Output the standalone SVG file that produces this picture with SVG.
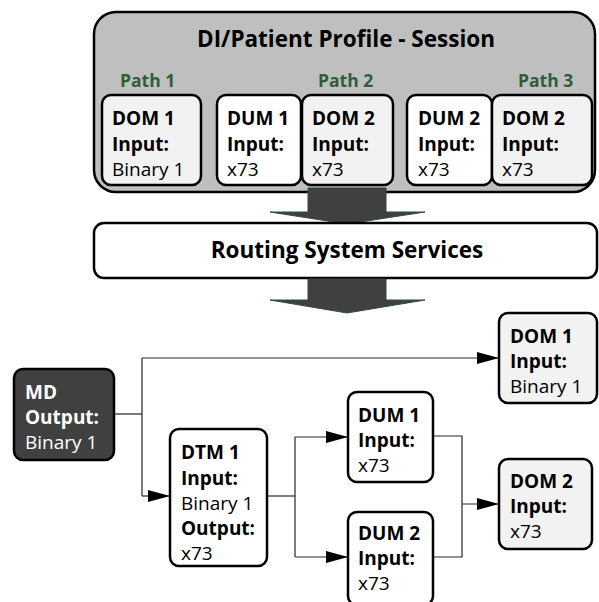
<svg xmlns="http://www.w3.org/2000/svg" width="599" height="602" viewBox="0 0 599 602">
<defs>
<style>
.box{stroke:#000;stroke-width:2.5}
.w{fill:#fff}
.g{fill:#f2f2f2}
.t{font-family:"Open Sans","Liberation Sans",sans-serif;font-size:19px;fill:#000}
.b{font-weight:bold}
.path{font-family:"Open Sans","Liberation Sans",sans-serif;font-size:17.5px;font-weight:bold;fill:#2f5e3b}
.big{font-family:"Open Sans","Liberation Sans",sans-serif;font-size:22.5px;font-weight:bold;fill:#000;text-anchor:middle}
.ln{fill:none;stroke:#262626;stroke-width:1.2}
.blk{fill:#404040;stroke:#2f4f3a;stroke-width:1}
</style>
<marker id="ah" markerUnits="userSpaceOnUse" markerWidth="22" markerHeight="12" refX="22" refY="6" orient="auto">
<path d="M0,0 L22,6 L0,12 z" fill="#000"/>
</marker>
</defs>

<g id="session">
<rect class="box" x="94" y="12" width="501" height="180" rx="22" fill="#bfbfbf"/>
<text class="big" x="346" y="47">DI/Patient Profile - Session</text>
<text class="path" x="120" y="87">Path 1</text>
<text class="path" x="318" y="87">Path 2</text>
<text class="path" x="518" y="87">Path 3</text>
</g>

<g id="s-dom1">
<rect class="box g" x="102" y="95" width="99" height="90" rx="9"/>
<text class="t"><tspan class="b" x="112" y="125">DOM 1</tspan><tspan class="b" x="112" y="151">Input:</tspan><tspan x="112" y="176">Binary 1</tspan></text>
</g>
<g id="s-dum1">
<rect class="box w" x="217" y="95" width="84" height="90" rx="9"/>
<text class="t"><tspan class="b" x="227" y="125">DUM 1</tspan><tspan class="b" x="227" y="151">Input:</tspan><tspan x="227" y="176">x73</tspan></text>
</g>
<g id="s-dom2a">
<rect class="box g" x="302" y="95" width="91" height="90" rx="9"/>
<text class="t"><tspan class="b" x="312" y="125">DOM 2</tspan><tspan class="b" x="312" y="151">Input:</tspan><tspan x="312" y="176">x73</tspan></text>
</g>
<g id="s-dum2">
<rect class="box w" x="407" y="95" width="85" height="90" rx="9"/>
<text class="t"><tspan class="b" x="418" y="125">DUM 2</tspan><tspan class="b" x="418" y="151">Input:</tspan><tspan x="418" y="176">x73</tspan></text>
</g>
<g id="s-dom2b">
<rect class="box g" x="492" y="95" width="100" height="90" rx="9"/>
<text class="t"><tspan class="b" x="502" y="125">DOM 2</tspan><tspan class="b" x="502" y="151">Input:</tspan><tspan x="502" y="176">x73</tspan></text>
</g>

<g id="arrow1">
<polygon class="blk" points="308,188 386,188 386,212 425,212 347,224 270,212 308,212"/>
</g>

<g id="routing">
<rect class="box w" x="94" y="223" width="503" height="55" rx="10"/>
<text class="big" x="347" y="258">Routing System Services</text>
</g>

<g id="arrow2">
<polygon class="blk" points="308,279 386,279 386,300 425,300 347,313 270,300 308,300"/>
</g>

<g id="connectors">
<path class="ln" d="M114,414 H142"/>
<path class="ln" d="M142,358 V496"/>
<path class="ln" d="M142,358 H499" marker-end="url(#ah)"/>
<path class="ln" d="M142,496 H170" marker-end="url(#ah)"/>
<path class="ln" d="M267,496 H295"/>
<path class="ln" d="M295,437 V557"/>
<path class="ln" d="M295,437 H348" marker-end="url(#ah)"/>
<path class="ln" d="M295,557 H348" marker-end="url(#ah)"/>
<path class="ln" d="M433,436 H462 V557 H433"/>
<path class="ln" d="M462,504 H499" marker-end="url(#ah)"/>
</g>

<g id="md">
<rect class="box" x="14" y="369" width="100" height="91" rx="9" fill="#404040"/>
<text class="t" style="fill:#fff"><tspan class="b" x="25" y="399">MD</tspan><tspan class="b" x="25" y="424">Output:</tspan><tspan x="25" y="449">Binary 1</tspan></text>
</g>
<g id="dtm1">
<rect class="box w" x="170" y="429" width="97" height="137" rx="9"/>
<text class="t"><tspan class="b" x="181" y="459">DTM 1</tspan><tspan class="b" x="181" y="485">Input:</tspan><tspan x="181" y="510">Binary 1</tspan><tspan class="b" x="181" y="535">Output:</tspan><tspan x="181" y="560">x73</tspan></text>
</g>
<g id="dum1">
<rect class="box w" x="348" y="392" width="85" height="90" rx="9"/>
<text class="t"><tspan class="b" x="358" y="422">DUM 1</tspan><tspan class="b" x="358" y="447">Input:</tspan><tspan x="358" y="472">x73</tspan></text>
</g>
<g id="dum2">
<rect class="box w" x="348" y="512" width="85" height="93" rx="9"/>
<text class="t"><tspan class="b" x="358" y="540">DUM 2</tspan><tspan class="b" x="358" y="565">Input:</tspan><tspan x="358" y="590">x73</tspan></text>
</g>
<g id="dom1">
<rect class="box g" x="499" y="313" width="98" height="90" rx="9"/>
<text class="t"><tspan class="b" x="510" y="343">DOM 1</tspan><tspan class="b" x="510" y="368">Input:</tspan><tspan x="510" y="393">Binary 1</tspan></text>
</g>
<g id="dom2">
<rect class="box g" x="499" y="459" width="93" height="90" rx="9"/>
<text class="t"><tspan class="b" x="510" y="488">DOM 2</tspan><tspan class="b" x="510" y="513">Input:</tspan><tspan x="510" y="538">x73</tspan></text>
</g>
</svg>
